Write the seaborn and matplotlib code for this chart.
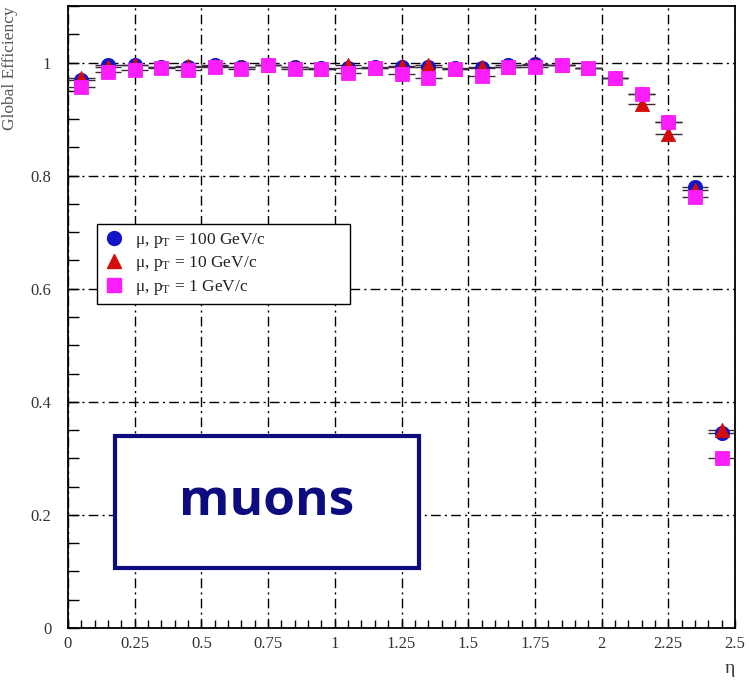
import numpy as np
import pandas as pd
import matplotlib
matplotlib.use("Agg")
import matplotlib.pyplot as plt
from matplotlib.ticker import MultipleLocator
from matplotlib.lines import Line2D
from matplotlib.patches import Rectangle
import seaborn as sns

# Pseudorapidity bin centres (bin width 0.1)
eta = [0.05, 0.15, 0.25, 0.35, 0.45, 0.55, 0.65, 0.75, 0.85, 0.95,
       1.05, 1.15, 1.25, 1.35, 1.45, 1.55, 1.65, 1.75, 1.85, 1.95,
       2.05, 2.15, 2.25, 2.35, 2.45]
half_width = 0.05

eff_pt100 = [0.970, 0.996, 0.996, 0.993, 0.993, 0.995, 0.993, 0.996, 0.993, 0.990,
             0.990, 0.992, 0.993, 0.993, 0.990, 0.990, 0.995, 0.997, 0.995, 0.991,
             0.972, 0.945, 0.895, 0.780, 0.345]
eff_pt10 = [0.972, 0.992, 0.995, 0.992, 0.994, 0.994, 0.993, 0.995, 0.992, 0.989,
            0.995, 0.991, 0.994, 0.996, 0.989, 0.993, 0.993, 0.995, 0.995, 0.990,
            0.972, 0.927, 0.873, 0.775, 0.350]
eff_pt1 = [0.956, 0.984, 0.987, 0.991, 0.986, 0.993, 0.989, 0.995, 0.989, 0.988,
           0.982, 0.991, 0.979, 0.973, 0.988, 0.976, 0.993, 0.993, 0.996, 0.990,
           0.972, 0.945, 0.894, 0.763, 0.300]

series_labels = [r"$\mathregular{\mu}$, p$_\mathregular{T}$ = 100 GeV/c",
                 r"$\mathregular{\mu}$, p$_\mathregular{T}$ = 10 GeV/c",
                 r"$\mathregular{\mu}$, p$_\mathregular{T}$ = 1 GeV/c"]
series_keys = ["pt100", "pt10", "pt1"]
series_colors = ["#1414c8", "#d40c0c", "#fa1efa"]
series_markers = ["o", "^", "s"]

x_ticks = [0, 0.25, 0.5, 0.75, 1, 1.25, 1.5, 1.75, 2, 2.25, 2.5]
x_ticklabels = ["0", "0.25", "0.5", "0.75", "1", "1.25", "1.5", "1.75", "2", "2.25", "2.5"]
y_ticks = [0, 0.2, 0.4, 0.6, 0.8, 1.0]
y_ticklabels = ["0", "0.2", "0.4", "0.6", "0.8", "1"]

df = pd.concat([
    pd.DataFrame({"eta": eta, "eff": vals, "sample": key})
    for key, vals in zip(series_keys, [eff_pt100, eff_pt10, eff_pt1])
], ignore_index=True)

sns.set_theme(style="white")
plt.rcParams["font.family"] = ["Liberation Serif", "DejaVu Serif"]
plt.rcParams["mathtext.fontset"] = "stix"

fig = plt.figure(figsize=(7.49, 6.83), dpi=100)
ax = fig.add_axes([68 / 749, 1 - 628 / 683, (735 - 68) / 749, (628 - 6) / 683])

# horizontal bin-width bars, then markers on top
for key, color, marker in zip(series_keys, series_colors, series_markers):
    sub = df[df["sample"] == key]
    ax.errorbar(sub["eta"], sub["eff"], xerr=half_width, fmt="none",
                ecolor="#3a2a3a", elinewidth=1.0, capsize=0, zorder=3)
    sns.scatterplot(data=sub, x="eta", y="eff", ax=ax, color=color,
                    marker=marker, s=105, edgecolor=color, linewidth=0.6,
                    zorder=4, legend=False)

ax.set_xlim(0, 2.5)
ax.set_ylim(0, 1.1)
ax.set_xticks(x_ticks)
ax.set_xticklabels(x_ticklabels)
ax.set_yticks(y_ticks)
ax.set_yticklabels(y_ticklabels)
ax.xaxis.set_minor_locator(MultipleLocator(0.05))
ax.yaxis.set_minor_locator(MultipleLocator(0.05))
ax.tick_params(axis="both", which="both", direction="in", color="black",
               labelcolor="#333333", labelsize=12)
ax.tick_params(axis="x", which="both", bottom=True, top=False, length=6, width=1, pad=6)
ax.tick_params(axis="y", which="both", left=True, right=False, length=8, width=1, pad=12)

ax.grid(True, which="major", color="black", linestyle=(0, (7, 3, 1.5, 3)), linewidth=1.0)
for sp in ax.spines.values():
    sp.set_visible(True)
    sp.set_color("black")
    sp.set_linewidth(1.3)

ax.set_xlabel(r"$\mathregular{\eta}$", loc="right", fontsize=14, color="#333333")
ax.xaxis.set_label_coords(1.0, -0.055)
ax.set_ylabel("Global Efficiency", loc="top", fontsize=12.5, color="#555555")
ax.yaxis.set_label_coords(-0.075, 1.0)

handles = [Line2D([], [], linestyle="none", marker=m, color=c, markersize=10)
           for m, c in zip(series_markers, series_colors)]
leg_x0, leg_x1 = (97 - 68) / 667, (350 - 68) / 667
leg_y0, leg_y1 = (628 - 305) / 622, (628 - 224) / 622
leg = ax.legend(handles, series_labels, loc="upper left",
                bbox_to_anchor=(leg_x0, leg_y0, leg_x1 - leg_x0, leg_y1 - leg_y0),
                mode="expand", frameon=True, fancybox=False, framealpha=1,
                edgecolor="black", fontsize=12.5, handletextpad=0.6,
                borderpad=0.4, labelspacing=0.25, handlelength=1.2,
                borderaxespad=0)
leg.get_frame().set_linewidth(1.0)
for t in leg.get_texts():
    t.set_color("#222222")

# "muons" panel
box_x0, box_x1 = (115 - 68) / 667, (419 - 68) / 667
box_y0, box_y1 = (628 - 568) / 622, (628 - 436) / 622
ax.add_patch(Rectangle((box_x0, box_y0), box_x1 - box_x0, box_y1 - box_y0,
                       transform=ax.transAxes, facecolor="white",
                       edgecolor="#0c0c80", linewidth=3, zorder=6))
ax.text((box_x0 + box_x1) / 2, (box_y0 + box_y1) / 2, "muons",
        transform=ax.transAxes, ha="center", va="center", fontsize=37,
        fontweight="bold", color="#0c0c80", family="Open Sans", zorder=7)

fig.savefig("out.png", dpi=100)
